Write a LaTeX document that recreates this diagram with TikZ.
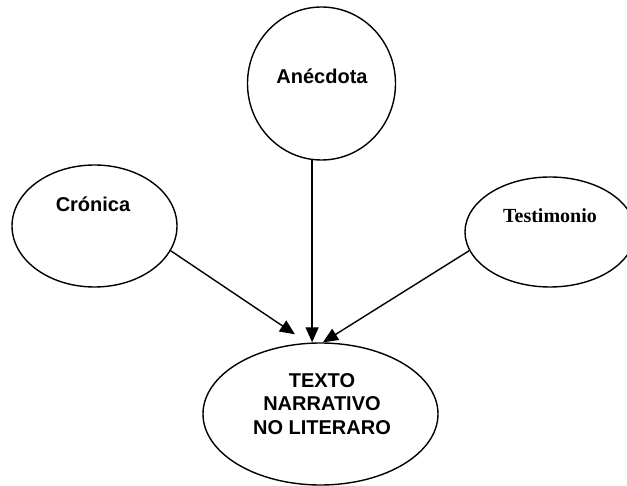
\documentclass[tikz,border=0pt]{standalone}
\usepackage{fontspec}
\setmainfont{Liberation Sans}
\newfontfamily\serifbold{Liberation Serif}
\usetikzlibrary{shapes.geometric,arrows.meta}
\begin{document}
\begin{tikzpicture}[x=1pt,y=-1pt,
  bubble/.style={draw=black,line width=1.4pt,ellipse,inner sep=0pt},
  lbl/.style={font=\fontsize{20}{23.5}\selectfont\bfseries,inner sep=0pt},
  conn/.style={line width=1.4pt,-{Triangle[length=15pt,width=13pt]}}]
\useasboundingbox (0,0) rectangle (627,486);
\node[bubble,minimum width=148pt,minimum height=153pt] (anec) at (321.5,83.5) {};
\node[bubble,minimum width=165pt,minimum height=122pt] (cron) at (94.5,226) {};
\node[bubble,minimum width=170pt,minimum height=110pt] (test) at (550,232) {};
\node[bubble,minimum width=235pt,minimum height=142pt] (texto) at (320.5,414) {};
\node[lbl,anchor=base] (anecT) at (322,84) {Anécdota};
\node[lbl,anchor=base] (cronT) at (93,212) {Crónica};
\node[lbl,anchor=base,font=\fontsize{20}{23.5}\selectfont\serifbold\bfseries] (testT) at (550,223) {Testimonio};
\node[lbl,align=center] (textoT) at (322,404) {TEXTO\\NARRATIVO\\NO LITERARO};
\draw[conn] (anec.-97) -- (anec.-97 |- texto.north);
\draw[conn] (cron.-18) -- ([shift={(-25.5,-8)}]texto.north);
\draw[conn] (test.193) -- ([shift={(2.5,0)}]texto.north);
\end{tikzpicture}
\end{document}
